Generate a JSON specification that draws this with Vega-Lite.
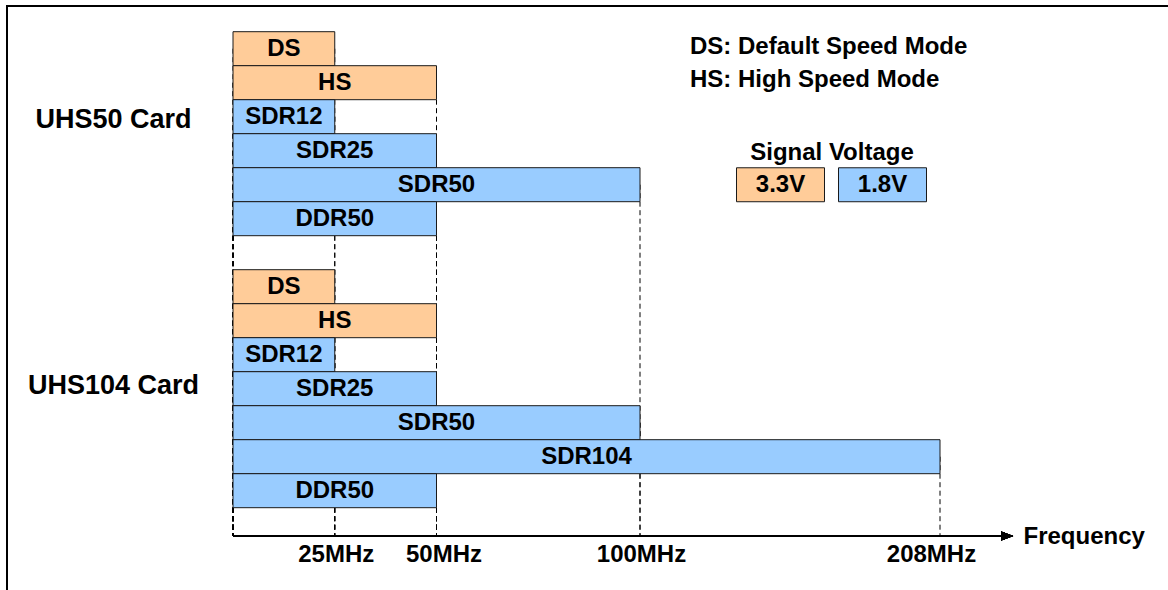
{
  "$schema": "https://vega.github.io/schema/vega-lite/v6.json",
  "width": 1163,
  "height": 586,
  "autosize": {"type": "none"},
  "padding": {"left": 7, "top": 6, "right": -2, "bottom": -2},
  "background": "white",
  "config": {
    "font": "Liberation Sans",
    "view": {"stroke": "#000", "strokeWidth": 2},
    "axis": {"grid": false}
  },
  "title": {
    "text": ["DS: Default Speed Mode", "HS: High Speed Mode"],
    "anchor": "start",
    "frame": "group",
    "orient": "top",
    "offset": 0,
    "dx": 683,
    "dy": 86,
    "baseline": "top",
    "lineHeight": 33,
    "font": "Liberation Sans",
    "fontSize": 24,
    "fontWeight": "bold",
    "color": "#000"
  },
  "datasets": {
    "modes": [
      {"key": "UHS50|DS", "card": "UHS50 Card", "mode": "DS", "voltage": "3.3V", "fmax": 25},
      {"key": "UHS50|HS", "card": "UHS50 Card", "mode": "HS", "voltage": "3.3V", "fmax": 50},
      {"key": "UHS50|SDR12", "card": "UHS50 Card", "mode": "SDR12", "voltage": "1.8V", "fmax": 25},
      {"key": "UHS50|SDR25", "card": "UHS50 Card", "mode": "SDR25", "voltage": "1.8V", "fmax": 50},
      {"key": "UHS50|SDR50", "card": "UHS50 Card", "mode": "SDR50", "voltage": "1.8V", "fmax": 100},
      {"key": "UHS50|DDR50", "card": "UHS50 Card", "mode": "DDR50", "voltage": "1.8V", "fmax": 50},
      {"key": "UHS104|DS", "card": "UHS104 Card", "mode": "DS", "voltage": "3.3V", "fmax": 25},
      {"key": "UHS104|HS", "card": "UHS104 Card", "mode": "HS", "voltage": "3.3V", "fmax": 50},
      {"key": "UHS104|SDR12", "card": "UHS104 Card", "mode": "SDR12", "voltage": "1.8V", "fmax": 25},
      {"key": "UHS104|SDR25", "card": "UHS104 Card", "mode": "SDR25", "voltage": "1.8V", "fmax": 50},
      {"key": "UHS104|SDR50", "card": "UHS104 Card", "mode": "SDR50", "voltage": "1.8V", "fmax": 100},
      {"key": "UHS104|SDR104", "card": "UHS104 Card", "mode": "SDR104", "voltage": "1.8V", "fmax": 208},
      {"key": "UHS104|DDR50", "card": "UHS104 Card", "mode": "DDR50", "voltage": "1.8V", "fmax": 50}
    ]
  },
  "data": {"name": "modes"},
  "layer": [
    {
      "mark": {"type": "rule", "stroke": "#000", "strokeWidth": 1, "strokeDash": [5, 3.5]},
      "encoding": {
        "x": {
          "field": "fmax", "type": "quantitative",
          "scale": {"type": "linear", "domain": [0, 100, 208], "range": [226, 633, 933], "zero": false, "nice": false}
        },
        "y": {"field": "key", "type": "nominal"},
        "y2": {"datum": "axis", "bandPosition": 0.83}
      }
    },
    {
      "mark": {"type": "rule", "stroke": "#000", "strokeWidth": 1, "strokeDash": [5, 3.5]},
      "encoding": {
        "x": {"datum": 0, "type": "quantitative"},
        "y": {"field": "key", "type": "nominal"},
        "y2": {"datum": "axis", "bandPosition": 0.83}
      }
    },
    {
      "mark": {"type": "rule", "stroke": "#000", "strokeWidth": 2},
      "encoding": {
        "x": {"datum": 0, "type": "quantitative"},
        "x2": {"datum": 230.5},
        "y": {"datum": "axis", "type": "nominal", "bandPosition": 0.83}
      }
    },
    {
      "mark": {"type": "point", "shape": "M-1,-0.75L1,0L-1,0.75Z", "size": 144, "filled": true, "fill": "#000", "opacity": 1},
      "encoding": {
        "x": {"datum": 232.2, "type": "quantitative"},
        "y": {"datum": "axis", "type": "nominal", "bandPosition": 0.83}
      }
    },
    {
      "mark": {"type": "bar", "stroke": "#1a1a1a", "strokeWidth": 1, "opacity": 1},
      "encoding": {
        "x": {
          "field": "fmax", "type": "quantitative",
          "axis": {
            "orient": "bottom",
            "offset": -56,
            "values": [25, 50, 100, 208],
            "labelExpr": "datum.value + 'MHz'",
            "domain": false,
            "ticks": false,
            "tickSize": 0,
            "labelFlush": false,
            "labelPadding": 6,
            "labelBaseline": "top",
            "labelOffset": {
              "condition": [
                {"test": "datum.value == 50", "value": 7},
                {"test": "datum.value == 208", "value": -9}
              ],
              "value": 1
            },
            "labelFont": "Liberation Sans",
            "labelFontSize": 24,
            "labelFontWeight": "bold",
            "labelColor": "#000",
            "title": "Frequency",
            "titleX": 1016,
            "titleY": 0,
            "titleAlign": "left",
            "titleBaseline": "middle",
            "titleFont": "Liberation Sans",
            "titleFontSize": 24,
            "titleFontWeight": "bold",
            "titleColor": "#000"
          }
        },
        "y": {
          "field": "key", "type": "nominal",
          "scale": {
            "type": "band",
            "domain": ["UHS50|DS", "UHS50|HS", "UHS50|SDR12", "UHS50|SDR25", "UHS50|SDR50", "UHS50|DDR50", "gap",
                       "UHS104|DS", "UHS104|HS", "UHS104|SDR12", "UHS104|SDR25", "UHS104|SDR50", "UHS104|SDR104", "UHS104|DDR50", "axis"],
            "range": [25.7, 535.7],
            "paddingInner": 0,
            "paddingOuter": 0
          },
          "axis": {
            "orient": "left",
            "offset": -226,
            "domain": false,
            "ticks": false,
            "tickSize": 0,
            "labelPadding": 120,
            "labelAlign": "center",
            "labelBaseline": "middle",
            "labelOffset": {
              "condition": {"test": "datum.value == 'UHS50|SDR12'", "value": 3},
              "value": -3
            },
            "labelExpr": "datum.value == 'UHS50|SDR12' ? 'UHS50 Card' : datum.value == 'UHS104|SDR25' ? 'UHS104 Card' : ''",
            "labelFont": "Liberation Sans",
            "labelFontSize": 27,
            "labelFontWeight": "bold",
            "labelColor": "#000",
            "labelLimit": 0,
            "title": null
          }
        },
        "color": {
          "field": "voltage", "type": "nominal",
          "scale": {"domain": ["3.3V", "1.8V"], "range": ["#FFCC99", "#99CCFF"]},
          "legend": {
            "orient": "none",
            "legendX": 729,
            "legendY": 135,
            "direction": "horizontal",
            "title": "Signal Voltage",
            "titleAnchor": "middle",
            "titleFont": "Liberation Sans",
            "titleFontSize": 24,
            "titleFontWeight": "bold",
            "titleColor": "#000",
            "titlePadding": -25,
            "symbolType": "M-1,-0.386H1V0.386H-1Z",
            "symbolSize": 7744,
            "symbolStrokeColor": "#1a1a1a",
            "symbolStrokeWidth": 1,
            "symbolOpacity": 1,
            "labelOffset": -44.5,
            "labelAlign": "center",
            "labelFont": "Liberation Sans",
            "labelFontSize": 24,
            "labelFontWeight": "bold",
            "labelColor": "#000",
            "labelLimit": 0,
            "columnPadding": 9
          }
        }
      }
    },
    {
      "transform": [
        {"calculate": "invert('x', (scale('x', 0) + scale('x', datum.fmax)) / 2)", "as": "mid"}
      ],
      "mark": {"type": "text", "font": "Liberation Sans", "fontSize": 24, "fontWeight": "bold", "color": "#000", "align": "center", "baseline": "middle"},
      "encoding": {
        "x": {"field": "mid", "type": "quantitative"},
        "y": {"field": "key", "type": "nominal"},
        "text": {"field": "mode"}
      }
    }
  ]
}
